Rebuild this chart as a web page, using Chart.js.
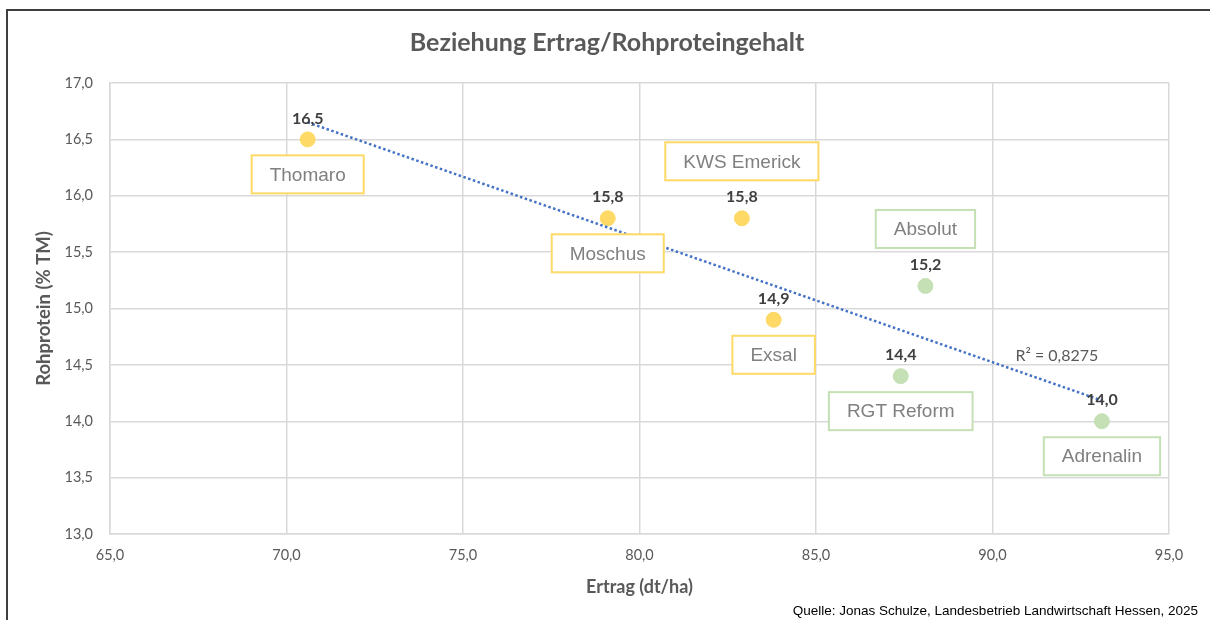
<!DOCTYPE html>
<html lang="de">
<head>
<meta charset="utf-8">
<title>Beziehung Ertrag/Rohproteingehalt</title>
<script src="https://cdn.jsdelivr.net/npm/chart.js@4.4.1/dist/chart.umd.min.js"></script>
<style>
  html, body { margin: 0; padding: 0; background: #fff; }
  #wrap { position: relative; width: 1210px; height: 620px; }
  #frame {
    position: absolute; left: 6px; top: 9px; right: 0; bottom: 0;
    border-top: 2px solid #3f3f3f; border-left: 2px solid #3f3f3f;
    pointer-events: none;
  }
</style>
</head>
<body>
<div id="wrap">
  <canvas id="chart" width="1210" height="620"></canvas>
  <div id="frame"></div>
</div>
<script>
// ---- data ----
const varieties = ['Thomaro', 'Moschus', 'KWS Emerick', 'Exsal', 'Absolut', 'RGT Reform', 'Adrenalin'];
const yieldValues = [70.6, 79.1, 82.9, 83.8, 88.1, 87.4, 93.1];      // Ertrag (dt/ha)
const proteinValues = [16.5, 15.8, 15.8, 14.9, 15.2, 14.4, 14.0];    // Rohprotein (% TM)
const groups = ['gelb', 'gelb', 'gelb', 'gelb', 'gruen', 'gruen', 'gruen'];
const xTicks = [65, 70, 75, 80, 85, 90, 95];
const yTicks = [13.0, 13.5, 14.0, 14.5, 15.0, 15.5, 16.0, 16.5, 17.0];
const chartTitle = 'Beziehung Ertrag/Rohproteingehalt';
const rSquaredLabel = 'R² = 0,8275';
const sourceText = 'Quelle: Jonas Schulze, Landesbetrieb Landwirtschaft Hessen, 2025';

// where the name box sits relative to its point
const boxSide = ['below', 'below', 'above', 'below', 'above', 'below', 'below'];

const groupColors = { gelb: '#FFD966', gruen: '#C5E0B4' };
const fmt = v => v.toFixed(1).replace('.', ',');

// linear trend (least squares) from the points
function linearFit(xs, ys) {
  const n = xs.length;
  const mx = xs.reduce((a, b) => a + b, 0) / n;
  const my = ys.reduce((a, b) => a + b, 0) / n;
  let sxy = 0, sxx = 0;
  xs.forEach((x, i) => { sxy += (x - mx) * (ys[i] - my); sxx += (x - mx) * (x - mx); });
  const slope = sxy / sxx;
  return x => my + slope * (x - mx);
}
const trend = linearFit(yieldValues, proteinValues);
const xMin = Math.min(...yieldValues);
const xMax = Math.max(...yieldValues);

const CALIBRI = 'Lato, "Open Sans", sans-serif';
const ARIAL = '"Liberation Sans", Arial, sans-serif';

const labelPlugin = {
  id: 'varietyLabels',
  afterDatasetsDraw(chart) {
    const ctx = chart.ctx;
    const pts = chart.getDatasetMeta(1).data;
    ctx.save();
    ctx.textAlign = 'center';
    ctx.textBaseline = 'middle';

    // title, centred on the framed card
    ctx.font = 'bold 25px ' + CALIBRI;
    ctx.fillStyle = '#595959';
    ctx.fillText(chartTitle, 607, 43);

    pts.forEach((p, i) => {
      // value above the point
      ctx.font = 'bold 16px ' + CALIBRI;
      ctx.fillStyle = '#404040';
      ctx.fillText(fmt(proteinValues[i]), p.x, p.y - 21);

      // name box
      ctx.font = '19px ' + ARIAL;
      const w = ctx.measureText(varieties[i]).width + 36;
      const h = 38;
      const cy = boxSide[i] === 'below' ? p.y + 35 : p.y - 57;
      ctx.fillStyle = '#ffffff';
      ctx.fillRect(p.x - w / 2, cy - h / 2, w, h);
      ctx.lineWidth = 2;
      ctx.strokeStyle = groupColors[groups[i]];
      ctx.strokeRect(p.x - w / 2, cy - h / 2, w, h);
      ctx.fillStyle = '#808080';
      ctx.fillText(varieties[i], p.x, cy + 1);
    });

    // R² next to the end of the trendline
    const t = chart.getDatasetMeta(0).data;
    const end = t[t.length - 1];
    ctx.font = '16px ' + CALIBRI;
    ctx.fillStyle = '#595959';
    ctx.fillText(rSquaredLabel, end.x - 45, end.y - 45);

    // source line
    ctx.font = '13.5px ' + ARIAL;
    ctx.fillStyle = '#000000';
    ctx.textAlign = 'right';
    ctx.fillText(sourceText, 1198, 611);
    ctx.restore();
  }
};

new Chart(document.getElementById('chart'), {
  type: 'scatter',
  data: {
    datasets: [
      {
        label: 'Linear',
        data: [{ x: xMin, y: trend(xMin) }, { x: xMax, y: trend(xMax) }],
        showLine: true,
        borderColor: '#4472C4',
        borderWidth: 2.5,
        borderDash: [2.5, 2.5],
        pointRadius: 0,
        fill: false
      },
      {
        label: 'Sorten',
        data: yieldValues.map((x, i) => ({ x, y: proteinValues[i] })),
        backgroundColor: groups.map(g => groupColors[g]),
        borderColor: groups.map(g => groupColors[g]),
        pointRadius: 7.5,
        pointHoverRadius: 7.5
      }
    ]
  },
  options: {
    responsive: false,
    animation: false,
    layout: { padding: { top: 83, right: 41, bottom: 0, left: 0 } },
    plugins: {
      legend: { display: false },
      tooltip: { enabled: false },
      title: { display: false }
    },
    scales: {
      x: {
        type: 'linear',
        min: xTicks[0],
        max: xTicks[xTicks.length - 1],
        afterBuildTicks: s => { s.ticks = xTicks.map(v => ({ value: v })); },
        afterFit: s => { s.height = 86; },
        grid: { color: '#D9D9D9', lineWidth: 1.5, drawTicks: false },
        border: { color: '#D9D9D9', width: 1.5 },
        ticks: { color: '#595959', font: { family: CALIBRI, size: 14.5 }, padding: 13, callback: v => fmt(v) },
        title: {
          display: true, text: 'Ertrag (dt/ha)', color: '#595959',
          font: { family: CALIBRI, size: 18, weight: 'bold' },
          padding: { top: 0, bottom: 22 }
        }
      },
      y: {
        type: 'linear',
        min: yTicks[0],
        max: yTicks[yTicks.length - 1],
        afterBuildTicks: s => { s.ticks = yTicks.map(v => ({ value: v })); },
        afterFit: s => { s.width = 110; },
        grid: { color: '#D9D9D9', lineWidth: 1.5, drawTicks: false },
        border: { color: '#D9D9D9', width: 1.5 },
        ticks: { color: '#595959', font: { family: CALIBRI, size: 14.5 }, padding: 17, callback: v => fmt(v) },
        title: {
          display: true, text: 'Rohprotein (% TM)', color: '#595959',
          font: { family: CALIBRI, size: 18.5, weight: 'bold' },
          padding: { top: 33, bottom: 0 }
        }
      }
    }
  },
  plugins: [labelPlugin]
});
</script>
</body>
</html>
